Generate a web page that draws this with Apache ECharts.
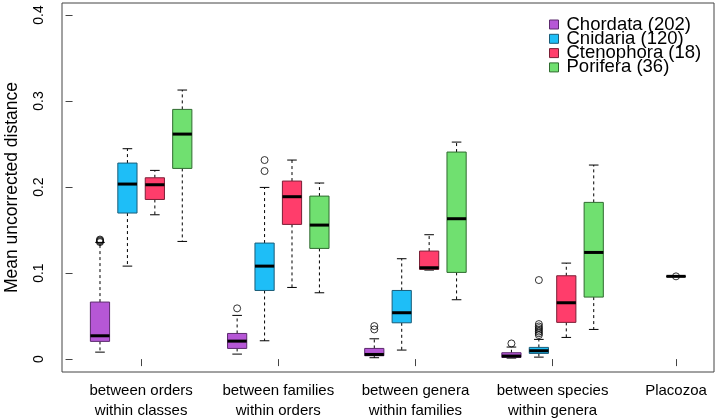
<!DOCTYPE html>
<html>
<head>
<meta charset="utf-8">
<script src="https://cdn.jsdelivr.net/npm/echarts@6/dist/echarts.min.js"></script>
<style>html,body{margin:0;padding:0;background:#fff}#c{width:716px;height:419px}</style>
</head>
<body>
<div id="c"></div>
<script>
// Category labels and their x positions
const groupLabels = ['between orders\nwithin classes', 'between families\nwithin orders', 'between genera\nwithin families', 'between species\nwithin genera', 'Placozoa'];
const groupPositions = [2.5, 7.5, 12.5, 17.5, 22];
const yTicks = [0, 0.1, 0.2, 0.3, 0.4];

// Phyla (legend names)
const phyla = ['Chordata (202)', 'Cnidaria (120)', 'Ctenophora (18)', 'Porifera (36)'];

// Box positions per phylum
const chordataPos = [1, 6, 11, 16];
const cnidariaPos = [2, 7, 12, 17];
const ctenophoraPos = [3, 8, 13, 18];
const poriferaPos = [4, 9, 14, 19];

// Stats per box: [lower whisker, Q1, median, Q3, upper whisker]
const chordataStats = [
  [0.0081, 0.0206, 0.0271, 0.0663, 0.1357],
  [0.0058, 0.0124, 0.0209, 0.0298, 0.0508],
  [0.0016, 0.0039, 0.0054, 0.0124, 0.0236],
  [0.0012, 0.0020, 0.0035, 0.0074, 0.0140]
];
const cnidariaStats = [
  [0.1081, 0.1698, 0.2035, 0.2279, 0.2446],
  [0.0213, 0.0798, 0.1081, 0.1349, 0.1996],
  [0.0105, 0.0422, 0.0539, 0.0798, 0.1167],
  [0.0023, 0.0066, 0.0097, 0.0136, 0.0229]
];
const ctenophoraStats = [
  [0.1678, 0.1856, 0.2027, 0.2108, 0.2194],
  [0.0833, 0.1566, 0.1888, 0.2070, 0.2314],
  [0.1035, 0.1043, 0.1062, 0.1256, 0.1446],
  [0.0252, 0.0427, 0.0655, 0.0969, 0.1116]
];
const poriferaStats = [
  [0.1368, 0.2217, 0.2616, 0.2903, 0.3128],
  [0.0771, 0.1287, 0.1558, 0.1895, 0.2047],
  [0.0690, 0.1008, 0.1632, 0.2407, 0.2523],
  [0.0345, 0.0721, 0.1240, 0.1822, 0.2256]
];
const placozoaPos = [22];
const placozoaStats = [[0.0962, 0.0962, 0.0962, 0.0962, 0.0962]];

// Outliers: [position, value]
const chordataOutliers = [[1, 0.1360], [1, 0.1370], [1, 0.1380], [1, 0.1390], [6, 0.0590], [11, 0.0345], [11, 0.0384], [16, 0.0182]];
const cnidariaOutliers = [[7, 0.2186], [7, 0.2314], [17, 0.0279], [17, 0.0300], [17, 0.0320], [17, 0.0340], [17, 0.0360], [17, 0.0380], [17, 0.0407], [17, 0.0919]];
const placozoaOutliers = [[22, 0.0962]];

const fills = ['#B657D6', '#1EBEF7', '#FF3D6B', '#70E070'];
const borders = ['#5C2A6E', '#1A5C78', '#7A1E35', '#2F6B2F'];
const BOXW = 0.7;

function boxData(pos, stats) {
  return pos.map((p, i) => [p].concat(stats[i]));
}

function renderBox(params, api) {
  const x = api.value(0);
  const lo = api.value(1), q1 = api.value(2), med = api.value(3), q3 = api.value(4), hi = api.value(5);
  const w = api.size([BOXW, 0])[0];
  const cap = w / 2;
  const pLo = api.coord([x, lo]), pQ1 = api.coord([x, q1]), pMed = api.coord([x, med]);
  const pQ3 = api.coord([x, q3]), pHi = api.coord([x, hi]);
  const cx = pMed[0];
  const fill = api.visual('color');
  const stroke = params.seriesIndex < 4 ? borders[params.seriesIndex] : '#000';
  const dash = { stroke: '#000', lineWidth: 1, lineDash: [3, 3] };
  const solid = { stroke: '#000', lineWidth: 1 };
  const children = [
    { type: 'line', shape: { x1: cx, y1: pQ3[1], x2: cx, y2: pHi[1] }, style: dash },
    { type: 'line', shape: { x1: cx, y1: pQ1[1], x2: cx, y2: pLo[1] }, style: dash },
    { type: 'line', shape: { x1: cx - cap / 2, y1: pHi[1], x2: cx + cap / 2, y2: pHi[1] }, style: solid },
    { type: 'line', shape: { x1: cx - cap / 2, y1: pLo[1], x2: cx + cap / 2, y2: pLo[1] }, style: solid },
    { type: 'rect', shape: { x: cx - w / 2, y: pQ3[1], width: w, height: pQ1[1] - pQ3[1] }, style: { fill: fill, stroke: stroke, lineWidth: 1 } },
    { type: 'line', shape: { x1: cx - w / 2, y1: pMed[1], x2: cx + w / 2, y2: pMed[1] }, style: { stroke: '#000', lineWidth: 3 } }
  ];
  return { type: 'group', children: children };
}

const series = [];
const allPos = [chordataPos, cnidariaPos, ctenophoraPos, poriferaPos];
const allStats = [chordataStats, cnidariaStats, ctenophoraStats, poriferaStats];
phyla.forEach((name, i) => {
  series.push({
    name: name, type: 'custom', renderItem: renderBox,
    itemStyle: { color: fills[i], borderColor: borders[i], borderWidth: 1 },
    encode: { x: 0, y: [1, 2, 3, 4, 5] },
    data: boxData(allPos[i], allStats[i]), z: 2
  });
});
series.push({
  name: 'Placozoa', type: 'custom', renderItem: renderBox,
  itemStyle: { color: '#000' },
  encode: { x: 0, y: [1, 2, 3, 4, 5] },
  data: boxData(placozoaPos, placozoaStats), z: 2
});
[chordataOutliers, cnidariaOutliers, placozoaOutliers].forEach((d, i) => {
  series.push({
    name: 'outliers' + i, type: 'scatter', data: d, symbol: 'circle', symbolSize: 7,
    itemStyle: { color: 'rgba(0,0,0,0)', borderColor: '#000', borderWidth: 1 }, z: 3
  });
});

const chart = echarts.init(document.getElementById('c'), null, { renderer: 'canvas' });
chart.setOption({
  animation: false,
  textStyle: { fontFamily: 'Liberation Sans, Arial, sans-serif' },
  grid: { left: 62, right: 2, top: 3, bottom: 47, show: true, borderColor: '#444', borderWidth: 1, backgroundColor: 'transparent', containLabel: false, outerBoundsMode: 'none' },
  legend: {
    data: phyla, orient: 'vertical', left: 544, top: 10, icon: 'rect', itemWidth: 9, itemHeight: 9, itemGap: -4.7,
    textStyle: { fontSize: 18.5, color: '#000', lineHeight: 15, padding: [0, 0, 0, 3] },
    itemStyle: { borderWidth: 1 }, selectedMode: false
  },
  xAxis: {
    type: 'value', min: -0.385, max: 23.385,
    axisLine: { show: false }, splitLine: { show: false },
    axisTick: { show: true, customValues: groupPositions, length: 7, lineStyle: { color: '#444' } },
    axisLabel: {
      customValues: groupPositions, fontSize: 15, color: '#000', lineHeight: 20, margin: 9,
      formatter: v => { const i = groupPositions.indexOf(v); return i >= 0 ? groupLabels[i] : ''; }
    }
  },
  yAxis: {
    type: 'value', min: -0.015, max: 0.414,
    name: 'Mean uncorrected distance', nameLocation: 'middle', nameGap: 41,
    nameTextStyle: { fontSize: 17.5, color: '#000' },
    axisLine: { show: false }, splitLine: { show: false },
    axisTick: { show: true, customValues: yTicks, length: 7, lineStyle: { color: '#444' } },
    axisLabel: {
      customValues: yTicks, rotate: 90, fontSize: 14, color: '#000', margin: 16,
      formatter: v => v === 0 ? '0' : String(v)
    }
  },
  series: series
});
</script>
</body>
</html>
